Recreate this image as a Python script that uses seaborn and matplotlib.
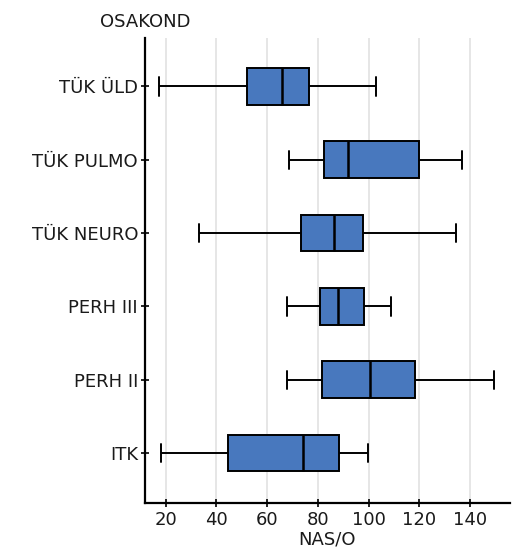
import matplotlib
matplotlib.use("Agg")
import matplotlib.pyplot as plt
import seaborn as sns
import pandas as pd

# Five-number summaries per department (min, Q1, median, Q3, max)
departments = ["TÜK ÜLD", "TÜK PULMO", "TÜK NEURO", "PERH III", "PERH II", "ITK"]
low_whisker = [17.4, 68.6, 33.0, 67.8, 67.8, 18.3]
q1 = [52.2, 82.5, 73.2, 81.0, 81.6, 44.6]
median = [65.7, 92.0, 86.4, 88.1, 100.4, 74.0]
q3 = [76.4, 119.8, 97.9, 98.1, 118.3, 88.2]
high_whisker = [102.8, 137.0, 134.5, 109.0, 149.3, 99.8]
x_ticks = [20, 40, 60, 80, 100, 120, 140]

rows = []
for i, dep in enumerate(departments):
    for v in (low_whisker[i], q1[i], median[i], q3[i], high_whisker[i]):
        rows.append({"OSAKOND": dep, "NAS/O": v})
df = pd.DataFrame(rows)

sns.set_style("white")
plt.rcParams["font.family"] = ["DejaVu Sans"]

fig = plt.figure(figsize=(5.13, 5.49), dpi=100)
ax = fig.add_axes([145 / 513, 46 / 549, 365 / 513, 465 / 549])

sns.boxplot(
    data=df, x="NAS/O", y="OSAKOND", order=departments, orient="h",
    whis=(0, 100), width=0.5, color="#4878BE", saturation=1,
    linecolor="black", linewidth=1.4, showfliers=False, ax=ax,
    medianprops={"linewidth": 1.8},
)

ax.set_xlim(11.8, 155.8)
ax.set_ylim(5.68, -0.66)
ax.set_xticks(x_ticks)
ax.xaxis.grid(True, color="#e2e2e2", linewidth=1.2)
ax.set_axisbelow(True)

for s in ("top", "right"):
    ax.spines[s].set_visible(False)
for s in ("left", "bottom"):
    ax.spines[s].set_color("black")
    ax.spines[s].set_linewidth(1.6)

ax.tick_params(axis="both", direction="inout", length=6, width=1.2,
               colors="black", labelsize=13, pad=2)
ax.tick_params(axis="x", bottom=True, pad=3)
ax.tick_params(axis="y", left=True)
for lbl in ax.get_xticklabels() + ax.get_yticklabels():
    lbl.set_color("#1a1a1a")

ax.set_xlabel("NAS/O", fontsize=13, labelpad=1, color="#1a1a1a")
ax.set_ylabel("")
ax.text(0, 1.015, "OSAKOND", transform=ax.transAxes, ha="center",
        va="bottom", fontsize=13, color="#1a1a1a")

fig.savefig("out.png", dpi=100, facecolor="white")
